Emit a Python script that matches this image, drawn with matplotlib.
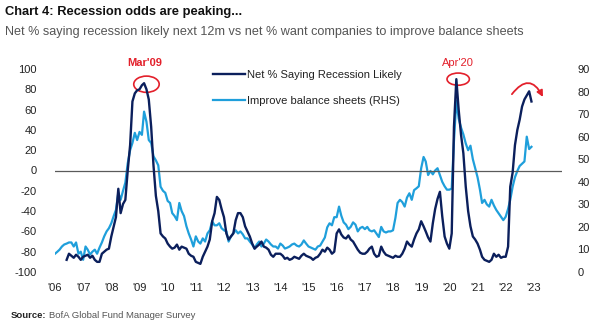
import numpy as np
import pandas as pd
import matplotlib
matplotlib.use("Agg")
import matplotlib.pyplot as plt
from matplotlib.patches import Ellipse, FancyArrowPatch

# Improve balance sheets (RHS), monthly Jan 2006 - Dec 2022
light_rhs = [
    8.1, 9.0, 9.9, 11.3, 12.2, 12.6, 13.1, 13.1, 11.3, 13.1, 8.1, 9.0,        # 2006
    5.4, 11.3, 9.9, 7.7, 9.0, 9.9, 8.1, 10.8, 13.1, 15.8, 18.0, 19.4,         # 2007
    21.6, 24.8, 27.5, 35.1, 32.0, 36.0, 39.6, 48.2, 54.0, 57.2, 61.7, 58.5,   # 2008
    62.1, 60.8, 71.1, 66.6, 58.5, 57.2, 51.3, 49.5, 47.3, 37.8, 36.0, 35.1,   # 2009
    31.5, 30.6, 26.1, 24.8, 23.0, 30.6, 27.0, 24.8, 20.3, 17.1, 14.4, 11.3,   # 2010
    15.8, 13.5, 12.6, 14.9, 13.5, 17.1, 18.5, 22.5, 20.7, 20.7, 21.6, 19.4,   # 2011
    18.5, 18.0, 13.5, 15.8, 17.1, 18.5, 17.1, 18.0, 16.7, 14.9, 14.9, 13.5,   # 2012
    12.2, 10.4, 12.2, 13.5, 11.3, 12.6, 14.4, 13.5, 12.2, 11.3, 11.3, 10.4,   # 2013
    12.6, 11.7, 10.4, 10.8, 11.3, 12.2, 12.6, 11.7, 11.3, 12.2, 14.0, 12.6,   # 2014
    11.3, 10.8, 10.4, 9.9, 11.3, 11.7, 13.5, 15.3, 19.8, 21.6, 20.7, 24.3,    # 2015
    24.3, 29.0, 25.0, 22.0, 21.0, 19.0, 20.0, 22.0, 21.0, 18.0, 19.5, 20.0,   # 2016
    19.0, 20.0, 18.5, 18.0, 18.5, 17.0, 15.5, 20.0, 18.0, 17.5, 18.0, 18.0,   # 2017
    18.5, 24.0, 30.6, 32.0, 31.0, 29.0, 33.0, 34.9, 32.0, 36.3, 37.1, 38.0,   # 2018
    46.0, 51.0, 49.0, 43.0, 44.8, 43.3, 45.0, 46.0, 43.0, 40.0, 38.0, 36.5,   # 2019
    36.5, 37.0, 58.0, 76.0, 68.0, 64.0, 61.0, 57.0, 54.0, 56.0, 50.0, 46.0,   # 2020
    42.0, 36.5, 30.6, 32.0, 30.0, 29.0, 32.0, 29.5, 27.5, 26.0, 24.5, 23.0,   # 2021
    24.5, 28.0, 32.0, 37.8, 42.0, 44.8, 47.0, 48.0, 49.0, 60.0, 54.5, 55.5,   # 2022
]

# Net % saying recession likely, monthly Jun 2006 - Dec 2022
net_recession = [
    -88, -82, -84, -86, -83, -85, -88,                                # 2006 (Jun-Dec)
    -85, -84, -83, -86, -84, -88, -90, -90, -82, -80, -78, -77,       # 2007
    -65, -55, -46, -18, -42, -33, -29, 0, 25, 68, 76, 79,             # 2008
    80, 84, 86, 80, 70, 43, 5, -25, -40, -62, -65, -67,               # 2009
    -72, -75, -77, -76, -73, -78, -75, -76, -77, -82, -84, -85,       # 2010
    -90, -91, -92, -85, -80, -75, -68, -50, -42, -26, -29, -38,       # 2011
    -46, -62, -68, -65, -62, -49, -42, -42, -46, -55, -60, -65,       # 2012
    -72, -77, -75, -73, -70, -75, -76, -78, -83, -85, -82, -82,       # 2013
    -82, -84, -87, -86, -88, -87, -85, -86, -87, -84, -82, -84,       # 2014
    -85, -86, -88, -86, -85, -82, -78, -80, -76, -78, -82, -80,       # 2015
    -62, -58, -63, -66, -67, -64, -68, -70, -74, -78, -81, -82,       # 2016
    -82, -80, -77, -75, -82, -85, -84, -75, -80, -83, -84, -85,       # 2017
    -86, -84, -85, -85, -82, -77, -70, -73, -75, -68, -62, -58,       # 2018
    -50, -55, -60, -66, -70, -52, -38, -28, -21, -45, -65, -72,       # 2019
    -77, -62, 43, 90, 60, 35, 17, -16, -40, -55, -65, -68,            # 2020
    -72, -78, -85, -88, -89, -90, -88, -82, -85, -83, -86, -85,       # 2021
    -85, -75, -16, -2, 25, 40, 50, 63, 70, 74, 78, 68,                # 2022
]

years = list(range(2006, 2024))
year_labels = ["'%02d" % (y % 100) for y in years]
left_ticks = list(range(-100, 101, 20))
right_ticks = list(range(0, 91, 10))

light_dates = pd.date_range("2006-01-01", periods=len(light_rhs), freq="MS")
dark_dates = pd.date_range("2006-06-01", periods=len(net_recession), freq="MS")

DARK = "#0b1f5c"
LIGHT = "#1f9fdb"
RED = "#e3202b"
TXT = "#222222"

plt.rcParams["font.family"] = ["Liberation Sans", "DejaVu Sans"]
plt.rcParams["axes.unicode_minus"] = False

fig = plt.figure(figsize=(6, 3.27), dpi=100)
ax = fig.add_axes([55/600, 1-272/327, 507/600, 203/327])
ax2 = ax.twinx()
ax.set_zorder(ax2.get_zorder() + 1)
ax.patch.set_visible(False)

ax.axhline(0, color="#5a5a5a", lw=0.9, zorder=0)
l2, = ax2.plot(light_dates, light_rhs, color=LIGHT, lw=1.6,
               label="Improve balance sheets (RHS)")
l1, = ax.plot(dark_dates, net_recession, color=DARK, lw=1.7,
              label="Net % Saying Recession Likely")

ax.set_ylim(-100, 100)
ax2.set_ylim(0, 90)
ax.set_xlim(pd.Timestamp("2006-01-01"), pd.Timestamp("2024-01-01"))
ax.set_yticks(left_ticks)
ax2.set_yticks(right_ticks)
ax.set_xticks([pd.Timestamp(f"{y}-01-01") for y in years])
ax.set_xticklabels(year_labels)

for a in (ax, ax2):
    for s in a.spines.values():
        s.set_visible(False)
    a.tick_params(length=0, labelsize=8, colors=TXT)
ax.tick_params(axis="y", pad=13)
ax.tick_params(axis="x", pad=8)
ax2.tick_params(axis="y", pad=11)

leg = ax.legend(handles=[l1, l2], loc="upper left", bbox_to_anchor=(0.292, 1.045),
                frameon=False, fontsize=8, handlelength=2.9, handletextpad=0.15,
                labelspacing=1.45)
for t in leg.get_texts():
    t.set_color(TXT)

# annotations
ax.text(pd.Timestamp("2009-03-15"), 101, "Mar'09", color=RED, fontsize=8,
        fontweight="bold", ha="center", va="bottom")
ax.add_patch(Ellipse((pd.Timestamp("2009-04-01"), 85), width=330, height=16,
                     fill=False, edgecolor=RED, lw=1.2))
ax.text(pd.Timestamp("2020-04-20"), 101, "Apr'20", color=RED, fontsize=8,
        ha="center", va="bottom")
ax.add_patch(Ellipse((pd.Timestamp("2020-04-25"), 90), width=290, height=12,
                     fill=False, edgecolor=RED, lw=1.2))
ax.add_patch(FancyArrowPatch((pd.Timestamp("2022-03-01"), 73),
                             (pd.Timestamp("2023-05-15"), 70),
                             connectionstyle="arc3,rad=-0.85", arrowstyle="-|>",
                             mutation_scale=9, color=RED, lw=1.3, clip_on=False))

fig.text(0.008, 0.962, "Chart 4: Recession odds are peaking...", fontsize=9.3,
         fontweight="bold", color="#111111", va="center")
fig.text(0.008, 0.903, "Net % saying recession likely next 12m vs net % want companies to improve balance sheets",
         fontsize=9.1, color="#555555", va="center")
src = fig.text(0.018, 0.035, "Source:", fontsize=6.8, fontweight="bold", color="#222222",
               va="center")
fig.canvas.draw()
bb = src.get_window_extent()
fig.text(bb.x1 / fig.bbox.width + 0.004, 0.035, "BofA Global Fund Manager Survey",
         fontsize=6.8, color="#555555", va="center")

fig.savefig("out.png", dpi=100)
